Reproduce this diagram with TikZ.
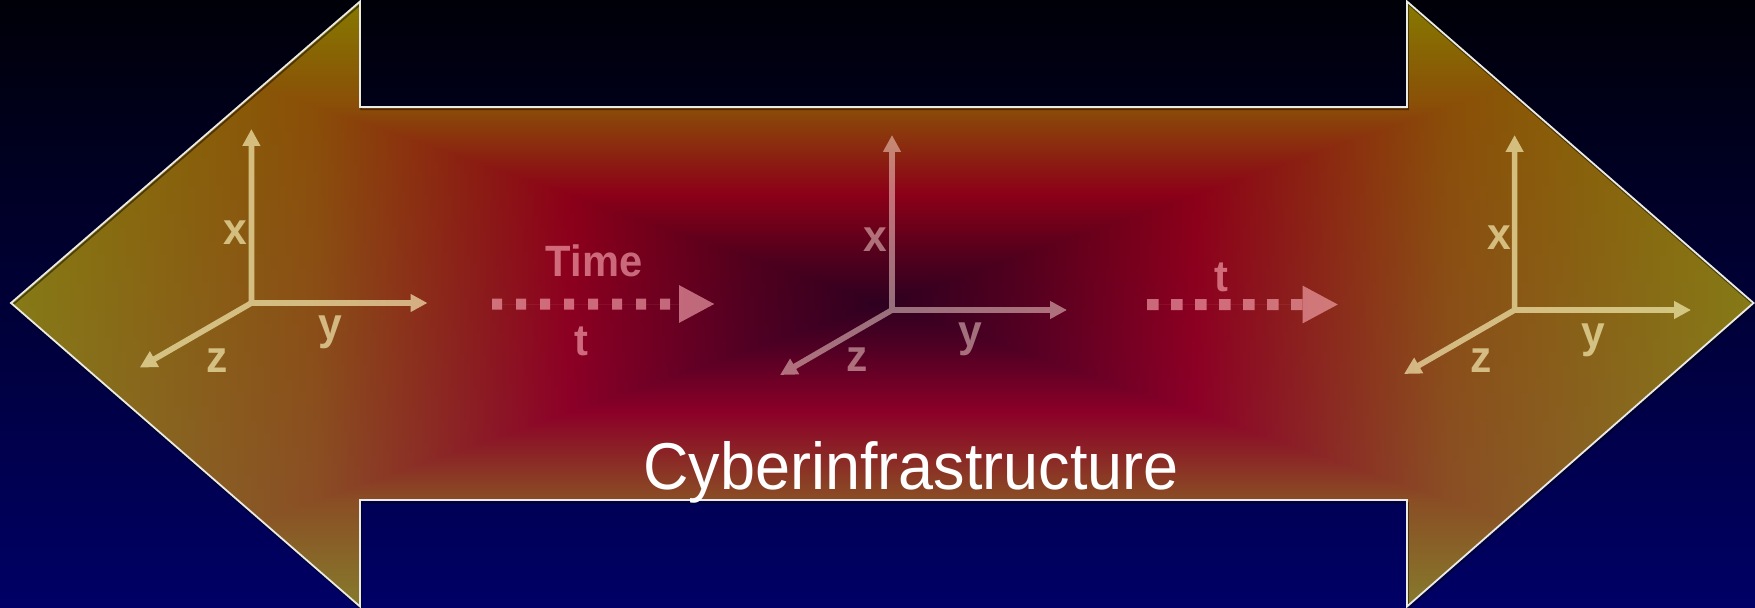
\documentclass[tikz,border=0pt]{standalone}
\usepackage{fontspec}
\setmainfont{Liberation Sans}[FakeStretch=0.95]
\usetikzlibrary{arrows.meta}

\definecolor{bgtop}{RGB}{0,0,8}
\definecolor{bgbot}{RGB}{0,0,102}
\definecolor{outlinecol}{RGB}{235,235,230}
\definecolor{axlight}{RGB}{255,248,190}
\definecolor{axmid}{RGB}{255,225,215}
\definecolor{timecol}{RGB}{255,175,185}

\pgfdeclarefunctionalshading{arrowfill}{\pgfpointorigin}{\pgfpoint{1755bp}{608bp}}{}{
 dup 305 sub 303 div
 3 1 roll
 305 sub abs 303 div
 exch 882 sub abs 871 div
 2 copy lt {exch} if pop
 dup 0.15 le
 { 0.15 div dup dup 34 mul 46 add 255 div 3 1 roll 0 mul 255 div exch 0 mul 32 add 255 div }
 { dup 0.36 le
   { 0.15 sub 0.21 div dup dup 60 mul 80 add 255 div 3 1 roll 0 mul 255 div exch 0 mul 32 add 255 div }
   { dup 0.65 le
     { 0.36 sub 0.29 div dup dup -2 mul 140 add 255 div 3 1 roll 78 mul 255 div exch -10 mul 32 add 255 div }
     { 0.65 sub 0.35 div dup 1 gt {pop 1} if dup dup -4 mul 138 add 255 div 3 1 roll 44 mul 78 add 255 div exch 0 mul 22 add 255 div }
     ifelse }
   ifelse }
 ifelse
 4 -1 roll -22 mul 255 div add
 dup 0 lt {pop 0} if
}

\newcommand\arrowshape[1]{\path[#1] (11,303) -- (360,1.5) -- (360,107) -- (1407,107) -- (1407,1.5) -- (1753.5,303) -- (1407,606.5) -- (1407,500) -- (360,500) -- (360,606.5) -- cycle;}

\tikzset{
  axisline/.style={line width=5.7bp, line cap=round, -{Triangle[length=17bp,width=17bp]}},
  axlabel/.style={font=\fontsize{45}{54}\selectfont\bfseries, inner sep=0pt, anchor=base},
  dotarrow/.style={line width=11bp, -{Triangle[length=36bp,width=35bp]}},
  timelabel/.style={font=\fontsize{44}{52}\selectfont\bfseries, inner sep=0pt, anchor=base, text=timecol},
}

\begin{document}
\begin{tikzpicture}[x=1bp,y=-1bp]
\useasboundingbox (0,0) rectangle (1755,608);
% background
\shade[top color=bgtop, bottom color=bgbot] (0,0) rectangle (1755,608);

% arrow fill
\begin{scope}
  \arrowshape{clip}
  \node[inner sep=0pt, outer sep=0pt, anchor=south west] (fill) at (0,608) {\pgfuseshading{arrowfill}};
\end{scope}
% shadow and outline
\arrowshape{draw=black, draw opacity=0.45, line width=1.5bp, shift={(1,2.5)}}
\arrowshape{draw=outlinecol, line width=1.8bp, line join=miter}

% left axes
\begin{scope}[transparency group, opacity=0.64]
  \coordinate (lo) at (251.4,303);
  \coordinate (lx) at (251.4,129);
  \coordinate (ly) at (427.5,303);
  \coordinate (lz) at (139.7,367.6);
  \draw[axisline, draw=axlight] (lo) -- (lx);
  \draw[axisline, draw=axlight] (lo) -- (ly);
  \draw[axisline, draw=axlight] (lo) -- (lz);
  \node[axlabel, text=axlight] (lxl) at (235.4,244.3) {x};
  \node[axlabel, text=axlight] (lyl) at (330,339.7) {y};
  \node[axlabel, text=axlight] (lzl) at (217,372) {z};
\end{scope}

% centre axes
\begin{scope}[transparency group, opacity=0.5]
  \coordinate (co) at (892,310);
  \coordinate (cx) at (892,135);
  \coordinate (cy) at (1067,310);
  \coordinate (cz) at (780,375);
  \draw[axisline, draw=axmid] (co) -- (cx);
  \draw[axisline, draw=axmid] (co) -- (cy);
  \draw[axisline, draw=axmid] (co) -- (cz);
  \node[axlabel, text=axmid] (cxl) at (875.5,251.7) {x};
  \node[axlabel, text=axmid] (cyl) at (970.4,346.7) {y};
  \node[axlabel, text=axmid] (czl) at (857,371.7) {z};
\end{scope}

% right axes
\begin{scope}[transparency group, opacity=0.64]
  \coordinate (ro) at (1514.6,310);
  \coordinate (rx) at (1514.6,135);
  \coordinate (ry) at (1691,310);
  \coordinate (rz) at (1404,374);
  \draw[axisline, draw=axlight] (ro) -- (rx);
  \draw[axisline, draw=axlight] (ro) -- (ry);
  \draw[axisline, draw=axlight] (ro) -- (rz);
  \node[axlabel, text=axlight] (rxl) at (1499,250) {x};
  \node[axlabel, text=axlight] (ryl) at (1593.7,347.5) {y};
  \node[axlabel, text=axlight] (rzl) at (1481,372) {z};
\end{scope}

% time arrows
\begin{scope}[transparency group, opacity=0.6]
  \coordinate (t1s) at (492,304);
  \coordinate (t1e) at (715,304);
  \draw[dotarrow, draw=timecol, fill=timecol, dash pattern=on 10bp off 14bp] (t1s) -- (t1e);
  \node[timelabel] (time) at (594,276.7) {Time};
  \node[timelabel] (tleft) at (581.7,355) {t};
  \coordinate (t2s) at (1147,304.5);
  \coordinate (t2e) at (1338.5,304.5);
  \draw[dotarrow, draw=timecol, fill=timecol, dash pattern=on 11.5bp off 12.5bp] (t2s) -- (t2e);
  \node[timelabel] (tright) at (1221.7,291.7) {t};
\end{scope}

\node[font=\fontsize{66.5}{80}\selectfont, text=white, inner sep=0pt, anchor=base] (cyber) at (911,489.3) {Cyberinfrastructure};
\end{tikzpicture}
\end{document}
